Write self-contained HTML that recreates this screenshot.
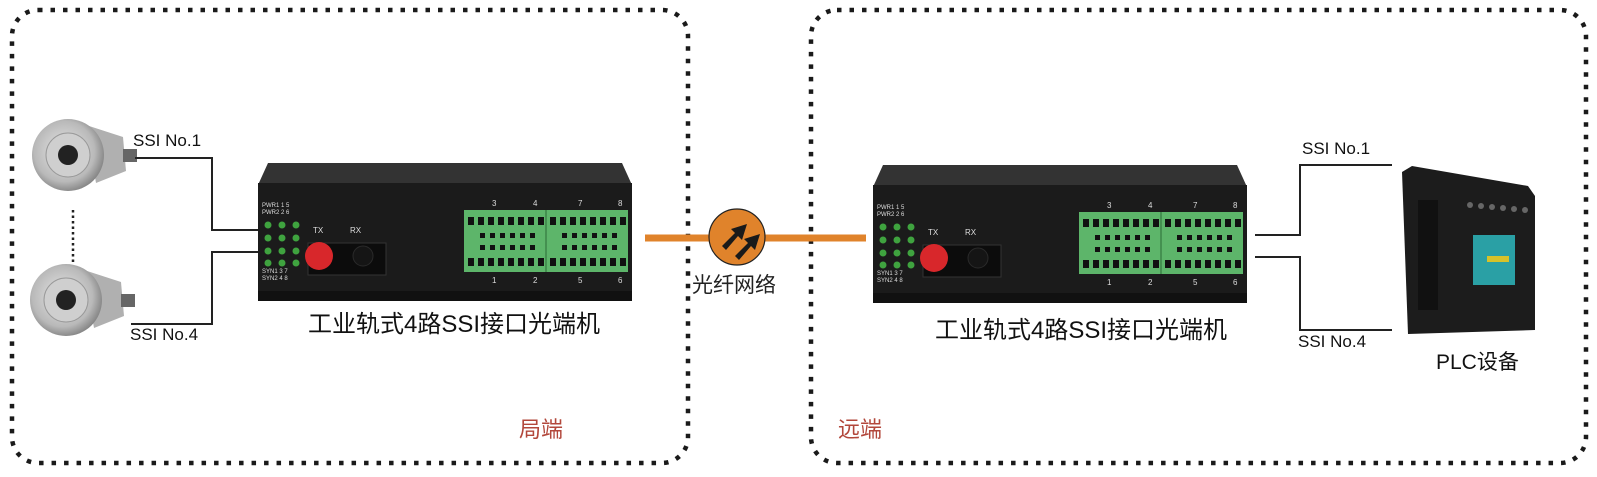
<!DOCTYPE html>
<html><head><meta charset="utf-8"><style>
html,body{margin:0;padding:0;background:#fff;width:1597px;height:477px;overflow:hidden}
svg{display:block}
text{font-family:"Liberation Sans","Noto Sans CJK SC",sans-serif}
</style></head><body>
<svg width="1597" height="477" viewBox="0 0 1597 477" xmlns="http://www.w3.org/2000/svg">
<defs>
<radialGradient id="enc" cx="0.45" cy="0.45" r="0.6">
<stop offset="0" stop-color="#e8e8e8"/><stop offset="0.7" stop-color="#b9b9b9"/><stop offset="1" stop-color="#7a7a7a"/>
</radialGradient>
<g id="dev">
<path d="M10 0 H364 L374 22 H0 Z" fill="#333"/>
<rect x="0" y="20" width="374" height="118" fill="#1b1b1b"/>
<rect x="0" y="128" width="374" height="10" fill="#111"/>
<g font-size="6" fill="#ddd">
<text x="4" y="44">PWR1  1    5</text><text x="4" y="51">PWR2  2    6</text>
<text x="4" y="110">SYN1  3    7</text><text x="4" y="117">SYN2  4    8</text>
</g>
<g fill="#3fa33f">
<circle cx="10" cy="62" r="3.5"/><circle cx="24" cy="62" r="3.5"/><circle cx="38" cy="62" r="3.5"/>
<circle cx="10" cy="75" r="3.5"/><circle cx="24" cy="75" r="3.5"/><circle cx="38" cy="75" r="3.5"/>
<circle cx="10" cy="88" r="3.5"/><circle cx="24" cy="88" r="3.5"/><circle cx="38" cy="88" r="3.5"/>
<circle cx="10" cy="100" r="3.5"/><circle cx="24" cy="100" r="3.5"/><circle cx="38" cy="100" r="3.5"/>
</g>
<text x="55" y="70" font-size="8" fill="#ddd">TX</text><text x="92" y="70" font-size="8" fill="#ddd">RX</text>
<rect x="50" y="80" width="78" height="32" fill="#0c0c0c" stroke="#333"/>
<circle cx="61" cy="93" r="14" fill="#d8272b"/>
<circle cx="105" cy="93" r="10" fill="#151515" stroke="#2a2a2a"/>
<rect x="206" y="47" width="164" height="62" fill="#5db56a"/>
<line x1="288" y1="47" x2="288" y2="109" stroke="#2c6b35" stroke-width="1"/>
<g fill="#111">
<rect x="210" y="54" width="6" height="8"/><rect x="220" y="54" width="6" height="8"/><rect x="230" y="54" width="6" height="8"/><rect x="240" y="54" width="6" height="8"/><rect x="250" y="54" width="6" height="8"/><rect x="260" y="54" width="6" height="8"/><rect x="270" y="54" width="6" height="8"/><rect x="280" y="54" width="6" height="8"/>
<rect x="292" y="54" width="6" height="8"/><rect x="302" y="54" width="6" height="8"/><rect x="312" y="54" width="6" height="8"/><rect x="322" y="54" width="6" height="8"/><rect x="332" y="54" width="6" height="8"/><rect x="342" y="54" width="6" height="8"/><rect x="352" y="54" width="6" height="8"/><rect x="362" y="54" width="6" height="8"/>
<rect x="210" y="95" width="6" height="8"/><rect x="220" y="95" width="6" height="8"/><rect x="230" y="95" width="6" height="8"/><rect x="240" y="95" width="6" height="8"/><rect x="250" y="95" width="6" height="8"/><rect x="260" y="95" width="6" height="8"/><rect x="270" y="95" width="6" height="8"/><rect x="280" y="95" width="6" height="8"/>
<rect x="292" y="95" width="6" height="8"/><rect x="302" y="95" width="6" height="8"/><rect x="312" y="95" width="6" height="8"/><rect x="322" y="95" width="6" height="8"/><rect x="332" y="95" width="6" height="8"/><rect x="342" y="95" width="6" height="8"/><rect x="352" y="95" width="6" height="8"/><rect x="362" y="95" width="6" height="8"/>
<rect x="222" y="70" width="5" height="5"/><rect x="232" y="70" width="5" height="5"/><rect x="242" y="70" width="5" height="5"/><rect x="252" y="70" width="5" height="5"/><rect x="262" y="70" width="5" height="5"/><rect x="272" y="70" width="5" height="5"/><rect x="304" y="70" width="5" height="5"/><rect x="314" y="70" width="5" height="5"/><rect x="324" y="70" width="5" height="5"/><rect x="334" y="70" width="5" height="5"/><rect x="344" y="70" width="5" height="5"/><rect x="354" y="70" width="5" height="5"/>
<rect x="222" y="82" width="5" height="5"/><rect x="232" y="82" width="5" height="5"/><rect x="242" y="82" width="5" height="5"/><rect x="252" y="82" width="5" height="5"/><rect x="262" y="82" width="5" height="5"/><rect x="272" y="82" width="5" height="5"/><rect x="304" y="82" width="5" height="5"/><rect x="314" y="82" width="5" height="5"/><rect x="324" y="82" width="5" height="5"/><rect x="334" y="82" width="5" height="5"/><rect x="344" y="82" width="5" height="5"/><rect x="354" y="82" width="5" height="5"/>
</g>
<g font-size="8" fill="#ddd">
<text x="234" y="43">3</text><text x="275" y="43">4</text><text x="320" y="43">7</text><text x="360" y="43">8</text>
<text x="234" y="120">1</text><text x="275" y="120">2</text><text x="320" y="120">5</text><text x="360" y="120">6</text>
</g>
</g>
<g id="encoder">
<path d="M18 -30 L55 -18 L58 16 L28 28 Z" fill="#b0b0b0"/>
<rect x="55" y="-6" width="14" height="13" fill="#666"/>
<circle r="36" fill="url(#enc)"/>
<circle r="22" fill="#cfcfcf" stroke="#999"/>
<circle r="10" fill="#222"/>
</g>
</defs>
<g fill="none" stroke="#1a1a1a" stroke-width="4.5" stroke-dasharray="4.5 8">
<rect x="12" y="10" width="676" height="453" rx="26"/>
<rect x="811" y="10" width="775" height="453" rx="26"/>
</g>
<use href="#encoder" x="68" y="155"/>
<use href="#encoder" x="66" y="300"/>
<line x1="73" y1="210" x2="73" y2="262" stroke="#222" stroke-width="2.5" stroke-dasharray="2.5 3"/>
<polyline points="135,158 212,158 212,230 258,230" fill="none" stroke="#222" stroke-width="2"/>
<polyline points="131,324 212,324 212,252 258,252" fill="none" stroke="#222" stroke-width="2"/>
<text x="133" y="146" font-size="17" fill="#111">SSI No.1</text>
<text x="130" y="340" font-size="17" fill="#111">SSI No.4</text>
<use href="#dev" x="258" y="163"/>
<use href="#dev" x="873" y="165"/>
<line x1="645" y1="238" x2="866" y2="238" stroke="#e0832b" stroke-width="7"/>
<circle cx="737" cy="237" r="28" fill="#e0832b" stroke="#222" stroke-width="1.2"/>
<path d="M722 246 L735 233 L731 229 L747 224 L742 240 L738 236 L726 250 Z" fill="#1a1a1a"/>
<path d="M735 256 L748 243 L744 239 L760 234 L755 250 L751 246 L739 260 Z" fill="#1a1a1a"/>
<text x="692" y="292" font-size="21" fill="#222">光纤网络</text>
<polyline points="1255,235 1300,235 1300,165 1392,165" fill="none" stroke="#222" stroke-width="2"/>
<polyline points="1255,257 1300,257 1300,330 1392,330" fill="none" stroke="#222" stroke-width="2"/>
<text x="1302" y="154" font-size="17" fill="#111">SSI No.1</text>
<text x="1298" y="347" font-size="17" fill="#111">SSI No.4</text>
<path d="M1402 172 L1412 166 L1528 186 L1535 196 L1535 330 L1408 334 Z" fill="#1c1c1c"/>
<rect x="1418" y="200" width="20" height="110" fill="#111"/>
<rect x="1473" y="235" width="42" height="50" fill="#2aa0a5"/>
<rect x="1487" y="256" width="22" height="6" fill="#d6c22a"/>
<g fill="#666"><circle cx="1470" cy="205" r="3"/><circle cx="1481" cy="206" r="3"/><circle cx="1492" cy="207" r="3"/><circle cx="1503" cy="208" r="3"/><circle cx="1514" cy="209" r="3"/><circle cx="1525" cy="210" r="3"/></g>
<text x="1436" y="369" font-size="21" fill="#111">PLC设备</text>
<text x="308" y="332" font-size="24" fill="#111">工业轨式4路SSI接口光端机</text>
<text x="935" y="338" font-size="24" fill="#111">工业轨式4路SSI接口光端机</text>
<text x="519" y="437" font-size="22" fill="#b2473b">局端</text>
<text x="838" y="437" font-size="22" fill="#b2473b">远端</text>
</svg>
</body></html>
